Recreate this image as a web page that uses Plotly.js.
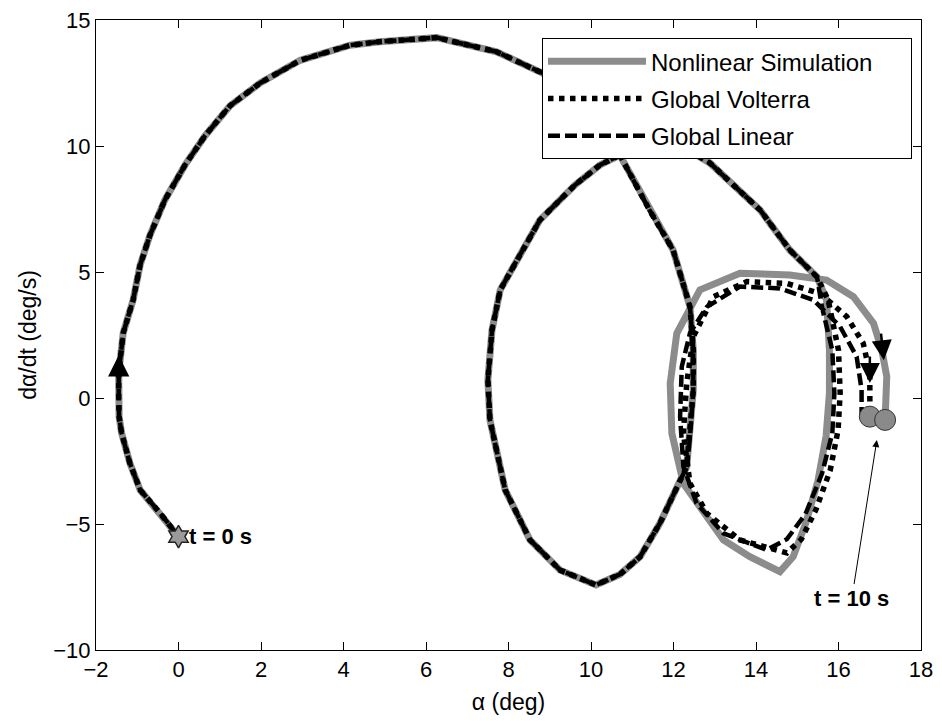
<!DOCTYPE html>
<html>
<head>
<meta charset="utf-8">
<script src="https://cdn.plot.ly/plotly-3.0.1.min.js"></script>
<style>html,body{margin:0;padding:0;background:#fff;}#chart{width:942px;height:721px;}</style>
</head>
<body>
<div id="chart"></div>
<script>
// Shared part of the trajectory (all three models coincide here)
var commonAlpha = [0,-0.45,-0.93,-1.18,-1.38,-1.44,-1.45,-1.45,-1.34,-1.10,-0.93,-0.69,-0.33,0.16,0.64,1.25,1.98,2.95,4.16,4.88,6.26,7.71,8.84,9.8,10.4,10.7,11.43,11.99,12.40,12.48,12.48,12.40,12.32,11.67,11.19,10.7,10.12,9.25,8.52,7.92,7.55,7.5,7.6,7.8,8.11,8.76,9.61,10.22,10.7,11.19,11.92,12.5,12.88,14.1,14.82,15.48];
var commonRate  = [-5.5,-4.56,-3.65,-2.58,-1.39,-0.74,0.05,0.99,2.58,3.89,5.28,6.47,7.86,9.25,10.4,11.6,12.5,13.4,14.0,14.14,14.3,13.74,12.88,11.6,10.5,9.64,7.42,5.87,3.62,1.9,0.32,-1.53,-2.73,-4.97,-6.3,-7.0,-7.42,-6.83,-5.63,-3.65,-0.87,0.71,2.7,4.29,5.2,7.06,8.45,9.25,9.64,9.9,9.95,9.7,9.33,7.46,5.87,4.8];

// Final part of each model
var nlAlpha  = [15.71,15.78,15.78,15.7,15.5,15.2,14.9,14.58,13.85,13.21,12.81,12.24,11.96,11.92,12.08,12.64,13.61,14.82,15.71,16.36,16.85,17.05,17.17,17.17,17.13];
var nlRate   = [3.89,1.9,0.2,-1.5,-3.3,-5.0,-6.3,-6.89,-6.3,-5.63,-4.71,-3.39,-1.4,0.58,2.57,4.29,4.95,4.88,4.68,4.02,2.96,1.9,0.85,-0.08,-0.87];
var volAlpha = [15.75,16.0,16.04,15.99,15.8,15.45,15.1,14.75,13.61,12.81,12.4,12.24,12.32,12.48,12.97,13.78,14.74,15.55,16.2,16.6,16.76,16.76,16.76];
var volRate  = [3.89,1.9,0.2,-1.27,-2.86,-4.44,-5.6,-6.15,-5.63,-4.58,-3.39,-1.4,0.58,2.43,4.02,4.62,4.55,4.15,3.23,2.17,0.98,0.05,-0.74];
var linAlpha = [15.6,15.85,15.9,15.85,15.6,15.2,14.75,14.26,13.21,12.56,12.24,12.16,12.2,12.4,12.81,13.61,14.58,15.39,16.04,16.44,16.56,16.56];
var linRate  = [3.6,1.9,0.2,-1.4,-3.0,-4.6,-5.6,-6.03,-5.37,-4.18,-2.73,-0.74,1.24,2.58,3.62,4.42,4.35,3.89,2.83,1.64,0.32,-1.0];

var seriesNames = ['Nonlinear Simulation','Global Volterra','Global Linear'];
var xTicks = [-2,0,2,4,6,8,10,12,14,16,18];
var yTicks = [-10,-5,0,5,10,15];

function full(a, b){ return a.concat(b); }
var nlX = full(commonAlpha, nlAlpha),  nlY = full(commonRate, nlRate);
var vX  = full(commonAlpha, volAlpha), vY  = full(commonRate, volRate);
var lX  = full(commonAlpha, linAlpha), lY  = full(commonRate, linRate);
var pad = '\u00a0\u00a0\u00a0\u00a0\u00a0';

var traces = [
  {x: nlX, y: nlY, mode:'lines', name: seriesNames[0] + pad, legendgroup:'a', line:{color:'#8c8c8c', width:7}},
  {x: vX, y: vY, mode:'lines', name: seriesNames[1], legendgroup:'b', line:{color:'#000', width:5.5, dash:'dot'}},
  {x: lX, y: lY, mode:'lines', name: seriesNames[2], legendgroup:'c', line:{color:'#000', width:4.5, dash:'12px,5px'}},
  {x: [nlX[0]], y: [nlY[0]], mode:'markers', showlegend:false,
   marker:{symbol:'hexagram', size:17, color:'#9a9a9a', line:{color:'#222', width:1.5}}},
  {x: [vX[vX.length-1], nlX[nlX.length-1]], y: [vY[vY.length-1], nlY[nlY.length-1]], mode:'markers', showlegend:false,
   marker:{symbol:'circle', size:21, color:'#8a8a8a', line:{color:'#333', width:1}}}
];

var layout = {
  width: 942, height: 721,
  margin: {l:96, r:21, t:20, b:71},
  paper_bgcolor:'#fff', plot_bgcolor:'#fff',
  font: {family:'Liberation Sans, Arial, sans-serif', size:22, color:'#000'},
  showlegend: true,
  legend: {x:0.5406, y:0.971, xanchor:'left', yanchor:'top', bgcolor:'#fff', bordercolor:'#000', borderwidth:1,
           font:{size:24}, itemwidth:98, tracegroupgap:3},
  xaxis: {range:[-2,18], tickvals:xTicks, ticks:'inside', ticklen:8, tickcolor:'#000', showline:true, linecolor:'#000', linewidth:1,
          mirror:'ticks', showgrid:false, zeroline:false, tickfont:{size:22}, title:{text:'α (deg)', font:{size:23}, standoff:12}},
  yaxis: {range:[-10,15], tickvals:yTicks, ticks:'inside', ticklen:8, tickcolor:'#000', showline:true, linecolor:'#000', linewidth:1,
          mirror:'ticks', showgrid:false, zeroline:false, tickfont:{size:22}, title:{text:'dα/dt (deg/s)', font:{size:23}, standoff:10}},
  annotations: [
    {x:-1.45, y:1.7, ax:0, ay:28, text:'', showarrow:true, arrowhead:2, arrowsize:1.7, arrowwidth:2.5, arrowcolor:'#000'},
    {x:17.1, y:1.5, ax:-3, ay:-28, text:'', showarrow:true, arrowhead:2, arrowsize:1.6, arrowwidth:2.5, arrowcolor:'#000'},
    {x:16.76, y:0.6, ax:0, ay:-28, text:'', showarrow:true, arrowhead:2, arrowsize:1.6, arrowwidth:2.5, arrowcolor:'#000'},
    {x:0, y:-5.5, xanchor:'left', xshift:8, text:'<b>t = 0 s</b>', showarrow:false, font:{size:22}},
    {x:16.93, y:-1.67, ax:-25, ay:158, text:'<b>t = 10 s</b>', showarrow:true, arrowhead:2, arrowsize:1.4, arrowwidth:1, arrowcolor:'#000', font:{size:22}}
  ]
};

Plotly.newPlot('chart', traces, layout, {displayModeBar:false, staticPlot:true});
</script>
</body>
</html>
